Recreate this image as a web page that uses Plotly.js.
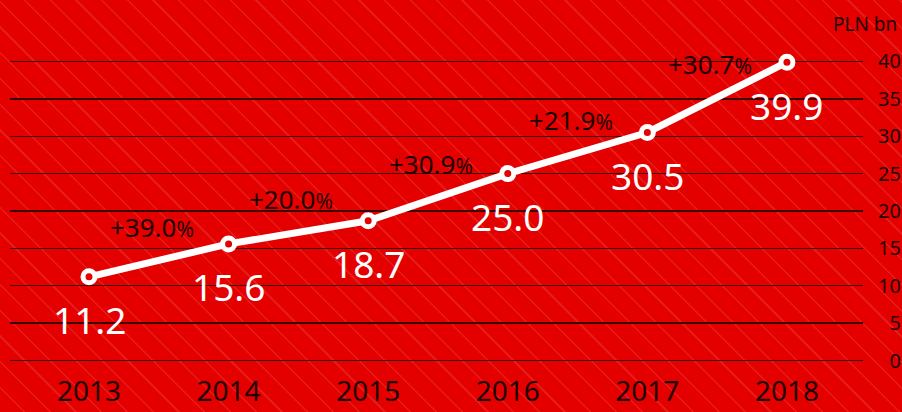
<!DOCTYPE html>
<html>
<head>
<meta charset="utf-8">
<script src="https://cdn.plot.ly/plotly-3.0.1.min.js"></script>
<style>
  html, body { margin: 0; padding: 0; }
  body {
    width: 902px; height: 412px; overflow: hidden;
    background-color: #e50000;
    background-image: repeating-linear-gradient(45deg, rgba(255,255,255,0) 0px, rgba(255,255,255,0) 16.6px, rgba(255,255,255,0.1) 16.6px, rgba(255,255,255,0.1) 18.2px);
  }
  #chart { width: 902px; height: 412px; }
</style>
</head>
<body>
<div id="chart"></div>
<script>
const years = ["2013", "2014", "2015", "2016", "2017", "2018"];
const values = [11.2, 15.6, 18.7, 25.0, 30.5, 39.9];
const growthLabels = ["+39.0", "+20.0", "+30.9", "+21.9", "+30.7"];
const yTicks = [0, 5, 10, 15, 20, 25, 30, 35, 40];
const unitLabel = "PLN bn";

const FONT = "Noto Sans, Open Sans, sans-serif";
const DARK = "#1f0000";
const RED = "#e50000";

const trace = {
  x: years,
  y: values,
  type: "scatter",
  mode: "lines+markers",
  line: { color: "#ffffff", width: 7 },
  marker: { size: 12, color: RED, line: { color: "#ffffff", width: 5 } },
  cliponaxis: false,
  hoverinfo: "skip"
};

const annotations = [];
values.forEach((v, i) => {
  annotations.push({
    x: i, y: v, xref: "x", yref: "y",
    text: v.toFixed(1),
    showarrow: false,
    yshift: -43,
    font: { family: FONT, size: 37, color: "#ffffff" }
  });
});
growthLabels.forEach((g, i) => {
  annotations.push({
    x: i + 0.5, y: (values[i] + values[i + 1]) / 2, xref: "x", yref: "y",
    text: g + '<span style="font-size:21px">%</span>',
    showarrow: false,
    yshift: 33, xshift: -7,
    font: { family: FONT, size: 26, color: DARK }
  });
});
annotations.push({
  x: 1, y: 1, xref: "paper", yref: "paper",
  xanchor: "right", yanchor: "bottom",
  xshift: 36, yshift: 15,
  text: unitLabel, showarrow: false,
  font: { family: FONT, size: 19, color: DARK }
});

const layout = {
  width: 902, height: 412,
  margin: { l: 10, r: 39, t: 53.5, b: 43.5 },
  paper_bgcolor: "rgba(0,0,0,0)",
  plot_bgcolor: "rgba(0,0,0,0)",
  showlegend: false,
  xaxis: {
    type: "category",
    range: [-0.566, 5.545],
    showgrid: false, zeroline: false, showline: false,
    ticks: "",
    tickfont: { family: FONT, size: 28, color: DARK },
    ticklabelstandoff: 4,
    fixedrange: true
  },
  yaxis: {
    side: "right",
    range: [-1, 41],
    tickvals: yTicks,
    ticktext: yTicks.map(v => (v < 10 ? "\u2007" : "") + String(v)),
    showgrid: true,
    gridcolor: "rgba(40,0,0,0.9)",
    gridwidth: 1.3,
    zeroline: false, showline: false,
    ticks: "outside",
    ticklen: 10,
    tickcolor: "rgba(0,0,0,0)",
    tickfont: { family: FONT, size: 20, color: DARK },
    fixedrange: true
  },
  annotations: annotations
};

Plotly.newPlot("chart", [trace], layout, { displayModeBar: false, staticPlot: true });
</script>
</body>
</html>
